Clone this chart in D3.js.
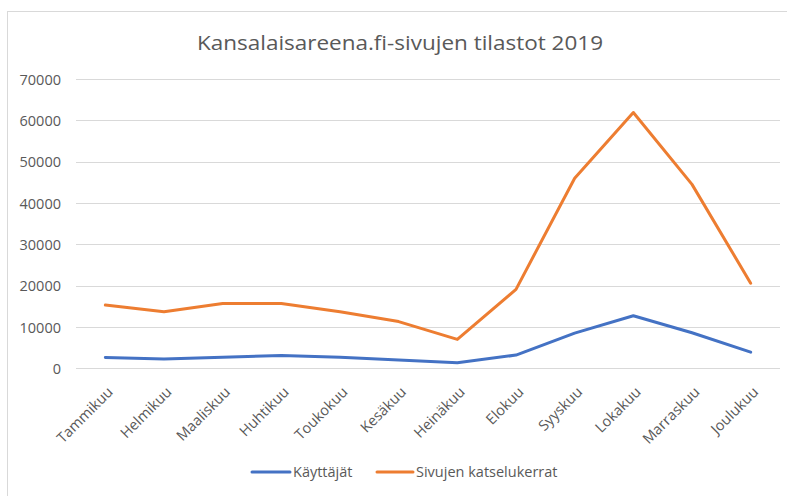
<!DOCTYPE html>
<html><head><meta charset="utf-8">
<script src="https://cdn.jsdelivr.net/npm/d3@7"></script>
<style>body{margin:0;background:#fff;}svg{display:block;font-family:"Open Sans","Liberation Sans",sans-serif;}</style>
</head><body>
<svg id="c" width="787" height="496"></svg>
<script>
const months = ["Tammikuu","Helmikuu","Maaliskuu","Huhtikuu","Toukokuu","Kesäkuu","Heinäkuu","Elokuu","Syyskuu","Lokakuu","Marraskuu","Joulukuu"];
const kayttajat = [2600, 2250, 2700, 3100, 2700, 2000, 1350, 3200, 8500, 12700, 8600, 3900];
const sivut = [15300, 13700, 15700, 15700, 13700, 11300, 7000, 19100, 46000, 61900, 44500, 20600];
const yTicks = [0, 10000, 20000, 30000, 40000, 50000, 60000, 70000];
const seriesNames = ["Käyttäjät", "Sivujen katselukerrat"];
const colors = ["#4472C4", "#ED7D31"];
const title = "Kansalaisareena.fi-sivujen tilastot 2019";

const svg = d3.select("#c");
svg.append("rect").attr("x",7.5).attr("y",11.5).attr("width",790).attr("height",500)
  .attr("fill","#fff").attr("stroke","#d9d9d9").attr("stroke-width",1);

const x = d3.scalePoint().domain(months).range([76, 780]).padding(0.5);
const y = d3.scaleLinear().domain([0, 70000]).range([368.3, 79]);

svg.append("text").attr("x", 400).attr("y", 50).attr("text-anchor","middle")
  .attr("font-size", 20).attr("fill","#595959").attr("textLength", 406).attr("lengthAdjust","spacingAndGlyphs").text(title);

// grid
const yAxis = d3.axisLeft(y).tickValues(yTicks).tickSize(0).tickFormat(d3.format("d"));
const gy = svg.append("g").attr("transform","translate(76,0)").call(yAxis);
gy.attr("font-size",14.5).attr("font-family","Open Sans, Liberation Sans, sans-serif");
gy.select(".domain").remove();
gy.selectAll("text").attr("x",-15).attr("dy","0.35em").attr("fill","#595959");
svg.append("g").selectAll("line").data(yTicks).join("line")
  .attr("x1",76).attr("x2",780).attr("y1",d=>Math.round(y(d))+0.5).attr("y2",d=>Math.round(y(d))+0.5)
  .attr("stroke","#d9d9d9").attr("stroke-width",1);

const xAxis = d3.axisBottom(x).tickSize(0);
const gx = svg.append("g").attr("transform","translate(0,368)").call(xAxis);
gx.attr("font-size",14.5).attr("font-family","Open Sans, Liberation Sans, sans-serif");
gx.select(".domain").remove();
gx.selectAll("text").attr("fill","#595959")
  .attr("text-anchor","end").attr("dy",0).attr("y",0)
  .attr("transform","translate(8,25) rotate(-45)");

const line = d3.line().x((d,i)=>x(months[i])).y(d=>y(d));
[kayttajat, sivut].forEach((s,k)=>{
  svg.append("path").datum(s).attr("d", line).attr("fill","none")
    .attr("stroke", colors[k]).attr("stroke-width",3).attr("stroke-linejoin","round").attr("stroke-linecap","round");
});

// legend
const leg = [{x1:252,x2:290,tx:293},{x1:377,x2:413,tx:416}];
leg.forEach((l,k)=>{
  svg.append("line").attr("x1",l.x1).attr("x2",l.x2).attr("y1",472).attr("y2",472)
    .attr("stroke",colors[k]).attr("stroke-width",3).attr("stroke-linecap","round");
  svg.append("text").attr("x",l.tx).attr("y",477).attr("font-size",14.5).attr("fill","#595959").text(seriesNames[k]);
});
</script>
</body></html>
